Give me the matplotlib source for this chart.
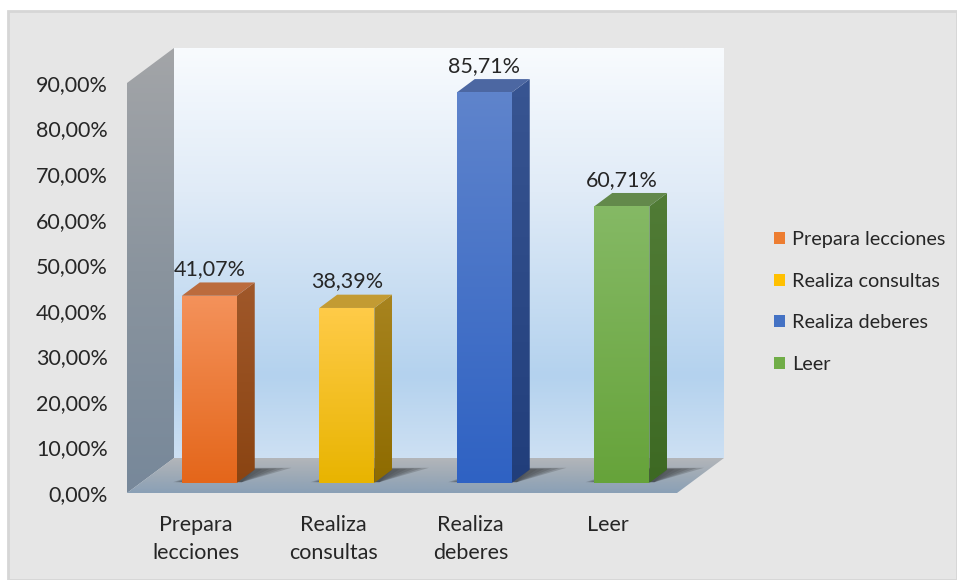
import numpy as np
import matplotlib
matplotlib.use("Agg")
import matplotlib.pyplot as plt
from matplotlib.patches import Polygon, Rectangle, Patch
from matplotlib.colors import LinearSegmentedColormap

# ---------------- data ----------------
categories = ["Prepara lecciones", "Realiza consultas", "Realiza deberes", "Leer"]
xtick_labels = ["Prepara\nlecciones", "Realiza\nconsultas", "Realiza\ndeberes", "Leer"]
values = [41.07, 38.39, 85.71, 60.71]
yticks = [0, 10, 20, 30, 40, 50, 60, 70, 80, 90]
ytick_labels = [f"{v:.2f}".replace(".", ",") + "%" for v in yticks]
value_labels = [f"{v:.2f}".replace(".", ",") + "%" for v in values]

# colours per series: (front top, front bottom, side top, side bottom, top face)
bar_colors = [
    ("#f4925b", "#e4661a", "#a0582a", "#8a4412", "#bb6b3d"),
    ("#ffcb48", "#e8b400", "#a8841f", "#8e6b00", "#c39b33"),
    ("#5f84cc", "#2f62c3", "#385592", "#213e7b", "#4c67a2"),
    ("#85b965", "#66a33a", "#517c36", "#3d6923", "#63894b"),
]
legend_colors = ["#ed7d31", "#ffc000", "#4472c4", "#70ad47"]

W, H, DPI = 957, 580, 100
FONT = ["Lato", "DejaVu Sans"]
TXT = "#262626"
FS = 15.5
plt.rcParams["font.family"] = FONT

fig = plt.figure(figsize=(W / DPI, H / DPI), dpi=DPI, facecolor="white")

# chart panel
panel = Rectangle((8 / W, 0), (W - 8) / W, (H - 11) / H,
                  transform=fig.transFigure, facecolor="#e6e6e6",
                  edgecolor="#d6d6d6", lw=2, zorder=-10)
fig.patches.append(panel)

# front plane of the 3D box (pixels)
fx0, fx1, fy0, fy1 = 127, 677, 493, 83
ax = fig.add_axes([fx0 / W, (H - fy0) / H, (fx1 - fx0) / W, (fy0 - fy1) / H])
ax.set_zorder(1)
ax.patch.set_visible(False)
for s in ax.spines.values():
    s.set_visible(False)

xmin, xmax, ymin, ymax = -0.5, len(values) - 0.5, 0, 90
ux = (fx1 - fx0) / (xmax - xmin)      # px per x unit
uy = (fy0 - fy1) / (ymax - ymin)      # px per y unit
DX, DY = 47, 35                       # depth of box in px
kx, ky = DX / ux, DY / uy             # depth offsets in data units


def P(x, y, d):
    return (x + d * kx, y + d * ky)


def grad_poly(pts, stops, z, horizontal=False):
    pts = np.asarray(pts)
    cmap = LinearSegmentedColormap.from_list("g", stops)
    g = np.linspace(0, 1, 256)
    arr = g.reshape(1, -1) if horizontal else g.reshape(-1, 1)
    im = ax.imshow(arr, cmap=cmap, vmin=0, vmax=1, origin="upper",
                   extent=(pts[:, 0].min(), pts[:, 0].max(),
                           pts[:, 1].min(), pts[:, 1].max()),
                   aspect="auto", interpolation="bilinear", zorder=z)
    clip = Polygon(pts, closed=True, transform=ax.transData)
    im.set_clip_box(fig.bbox)
    im.set_clip_path(clip)
    return im


# back wall
back = [P(xmin, 0, 1), P(xmax, 0, 1), P(xmax, ymax, 1), P(xmin, ymax, 1)]
grad_poly(back, [(0, "#f8fbfe"), (0.35, "#e0ebf7"), (0.8, "#b4d2ee"),
                 (1, "#cde0f3")], 1)
# left wall
left = [P(xmin, 0, 0), P(xmin, ymax, 0), P(xmin, ymax, 1), P(xmin, 0, 1)]
grad_poly(left, [(0, "#a3a5a8"), (0.5, "#8a949e"), (1, "#77889a")], 2)
# floor
floor = [P(xmin, 0, 0), P(xmax, 0, 0), P(xmax, 0, 1), P(xmin, 0, 1)]
grad_poly(floor, [(0, "#b3b6ba"), (0.5, "#9eaab6"), (1, "#8aa0b6")], 3)

# bars
d0, d1 = 0.29, 0.67
hw = 0.2
for i, (v, c) in enumerate(zip(values, bar_colors)):
    fl, fr = i - hw, i + hw
    # shadow on the floor (soft)
    for k, a in zip(range(6), [0.10, 0.10, 0.12, 0.14, 0.16, 0.18]):
        e = 0.05 * (5 - k)
        sh = [P(fl - 0.07 + e * 0.4, 0, d0 + 0.02),
              P(fr + 0.03, 0, d0 + 0.02),
              P(fr + 0.25 - e, 0, d1 + 0.05 - e * 0.2),
              P(fl + 0.1, 0, d1 + 0.05 - e * 0.2)]
        ax.add_patch(Polygon(sh, closed=True, facecolor="#1a1a1a", alpha=a,
                             edgecolor="none", zorder=4, clip_on=False))
    side = [P(fr, 0, d0), P(fr, 0, d1), P(fr, v, d1), P(fr, v, d0)]
    grad_poly(side, [(0, c[2]), (1, c[3])], 5)
    top = [P(fl, v, d0), P(fr, v, d0), P(fr, v, d1), P(fl, v, d1)]
    ax.add_patch(Polygon(top, closed=True, facecolor=c[4], edgecolor="none",
                         zorder=6, clip_on=False))
    front = [P(fl, 0, d0), P(fr, 0, d0), P(fr, v, d0), P(fl, v, d0)]
    grad_poly(front, [(0, c[0]), (1, c[1])], 7)
    tx = P(i, v, d0)[0]
    ty = P(i, v, d1)[1]
    ax.text(tx, ty + 0.7, value_labels[i], ha="center",
            va="bottom", fontsize=FS, color=TXT, zorder=8)

ax.set_xlim(xmin, xmax)
ax.set_ylim(ymin, ymax)
ax.set_yticks(yticks)
ax.set_yticklabels(ytick_labels, fontsize=FS, color=TXT)
ax.set_xticks(range(len(values)))
ax.set_xticklabels(xtick_labels, fontsize=FS, color=TXT, linespacing=1.5)
ax.tick_params(axis="y", length=0, pad=14)
ax.tick_params(axis="x", length=0, pad=16)

handles = [Patch(facecolor=c, edgecolor="none") for c in legend_colors]
fig.legend(handles, categories, loc="upper left",
           bbox_to_anchor=(764 / W, 1 - 221 / H), frameon=False,
           fontsize=14.3, handlelength=0.55, handleheight=0.55,
           handletextpad=0.35, labelspacing=1.24, borderpad=0,
           labelcolor=TXT)

fig.savefig("out.png", dpi=DPI, facecolor="white")
